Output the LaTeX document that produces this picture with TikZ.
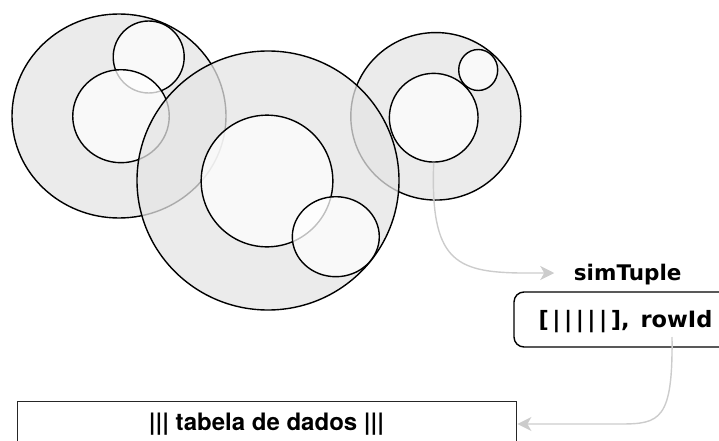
\documentclass[tikz,border=0pt]{standalone}
\usepackage{fontspec}
\newfontfamily\vfont{DejaVu Sans}
\newfontfamily\hfont{TeX Gyre Heros}
\usetikzlibrary{shapes.geometric,arrows.meta}
\definecolor{outerfill}{HTML}{E4E4E4}
\definecolor{conncol}{HTML}{CCCCCC}
\tikzset{
  outerc/.style={ellipse, draw=black, line width=1.4pt, fill=outerfill, fill opacity=0.75, inner sep=0pt},
  innerc/.style={ellipse, draw=black, line width=1.4pt, fill=white, fill opacity=0.75, inner sep=0pt},
  conn/.style={draw=conncol, line width=1.4pt, -{Stealth[length=14pt,width=14pt,inset=4pt,fill=conncol]}},
  vlabel/.style={inner sep=0pt, anchor=base, font=\vfont\bfseries\fontsize{21.5pt}{26pt}\selectfont},
  tlabel/.style={inner sep=0pt, anchor=base, font=\vfont\bfseries\fontsize{22.5pt}{27pt}\selectfont},
  hlabel/.style={inner sep=0pt, anchor=base, font=\hfont\bfseries\fontsize{24pt}{29pt}\selectfont},
}
\begin{document}
\begin{tikzpicture}[x=1pt,y=-1pt]
\useasboundingbox (0,0) rectangle (719,441);
\clip (0,0) rectangle (719,441);
% left group
\node[outerc, minimum width=214pt, minimum height=204pt] (A) at (119,116) {};
\node[innerc, minimum width=71pt, minimum height=72pt] (A1) at (148.7,57) {};
\node[innerc, minimum width=96.5pt, minimum height=93pt] (A2) at (121,116.2) {};
% right group
\node[outerc, minimum width=170pt, minimum height=167.5pt] (C) at (435.8,116.3) {};
\node[innerc, minimum width=88.7pt, minimum height=88.7pt] (C1) at (433.7,117.7) {};
\node[innerc, minimum width=39pt, minimum height=41pt] (C2) at (478.2,70) {};
% centre group
\node[outerc, minimum width=262pt, minimum height=259pt] (B) at (268,180.5) {};
\node[innerc, minimum width=131.7pt, minimum height=131.7pt] (B1) at (267,181) {};
\node[innerc, minimum width=87pt, minimum height=80pt] (B2) at (335.8,236.7) {};
% labels and boxes
\node[vlabel] (sim) at (627.7,280) {simTuple};
\node[draw=black, line width=1.4pt, rounded corners=10pt, minimum width=226pt, minimum height=55pt, inner sep=0pt] (tbox) at (627,319.5) {};
\node[tlabel] (tup) at (625.5,327) {[\kern3.5pt|\kern3.5pt|\kern3.5pt|\kern3.5pt|\kern3.5pt|\kern3.5pt],\kern3pt{} rowId};
\node[draw=black!85, line width=1.4pt, minimum width=499pt, minimum height=90pt, inner sep=0pt, anchor=north west] (table) at (17,401) {};
\node[hlabel] (tlab) at (266.5,430) {||| tabela de dados |||};
% connectors
\coordinate (simin) at ([xshift=-19.5pt,yshift=7pt]sim.base west);
\coordinate (tupout) at (672,337);
\coordinate (tabin) at ([yshift=-23pt]table.north east);
\draw[conn] (C1.south) .. controls (430,260) and (455,272) .. (520,273) -- (simin);
\draw[conn] (tupout) .. controls (673,420) and (660,424) .. (620,424) -- (tabin);
\end{tikzpicture}
\end{document}
